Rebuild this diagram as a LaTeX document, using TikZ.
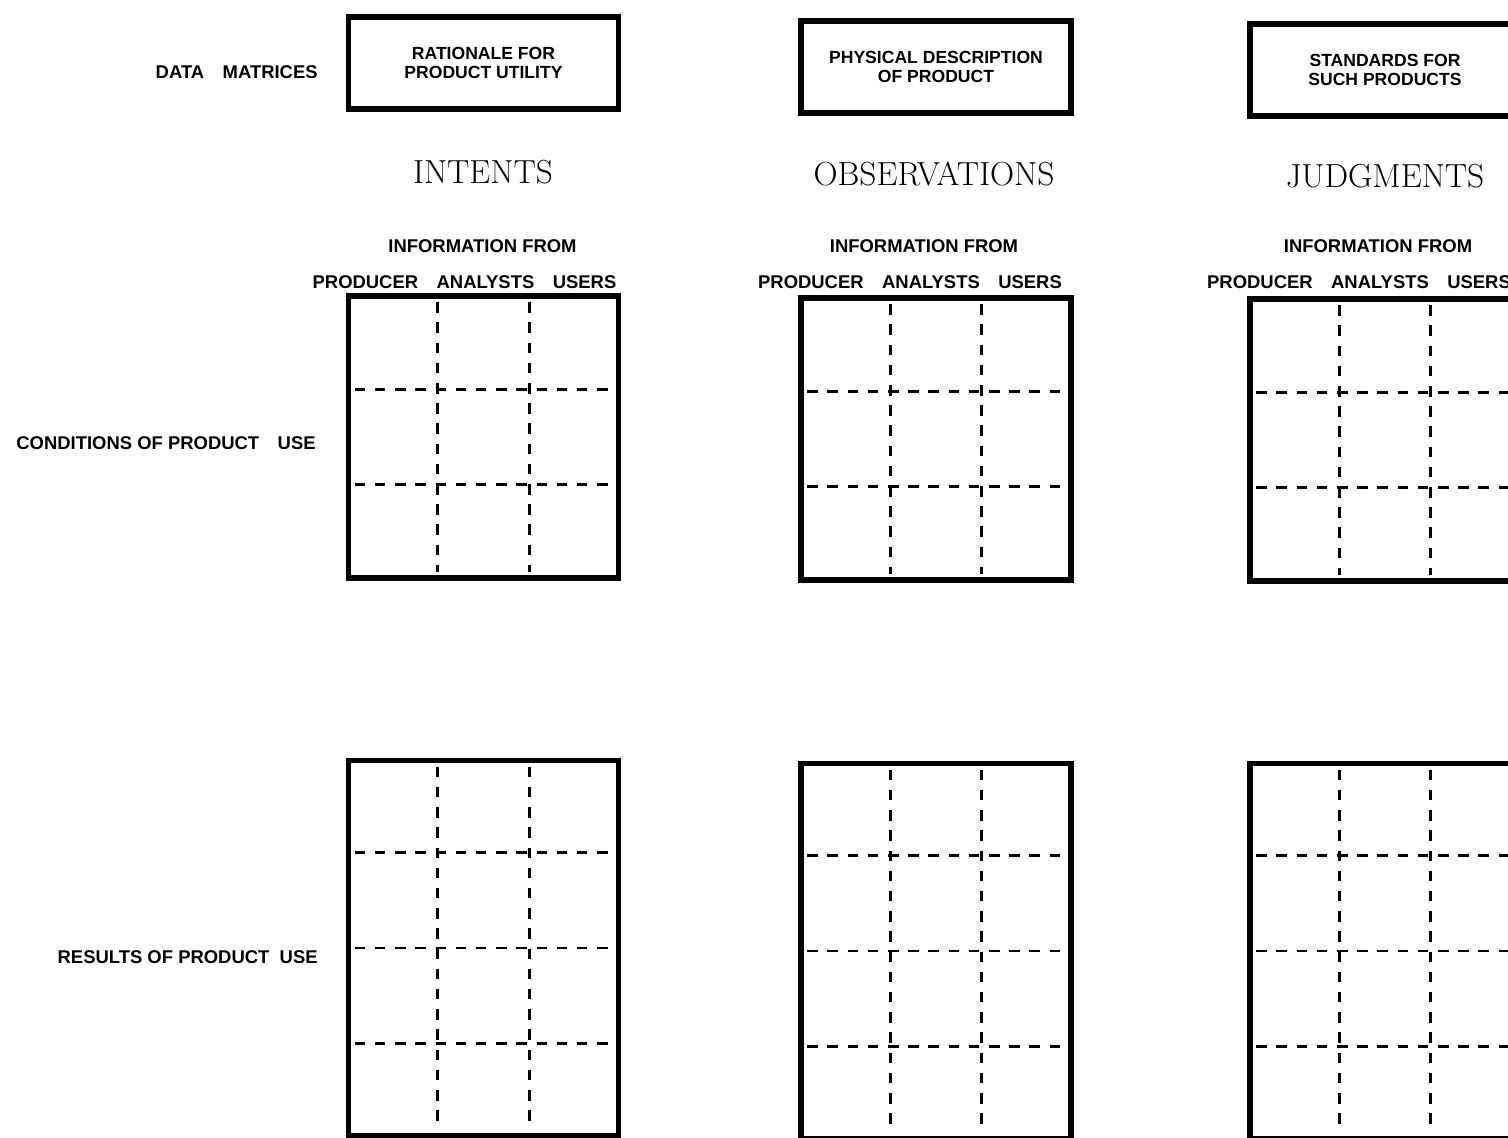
\documentclass[tikz,border=0pt]{standalone}
\usepackage{fontspec}
\newfontfamily\labelfont{Liberation Sans}
\usetikzlibrary{calc,positioning}
\tikzset{
  databox/.style={draw,line width=3pt,minimum width=5.4cm,minimum height=1.84cm,inner sep=0pt,align=center,
    font=\labelfont\bfseries\fontsize{10}{10.5}\selectfont},
  matrixbox/.style={draw,line width=3pt,minimum width=5.4cm,inner sep=0pt},
  cutline/.style={line width=1.7pt,dash pattern=on 6pt off 5.5pt,shorten <=5pt,shorten >=5pt},
  rowlabel/.style={anchor=east,inner sep=0pt,font=\labelfont\bfseries\fontsize{10.5}{12}\selectfont},
  colhead/.style={inner sep=0pt,font=\labelfont\bfseries\fontsize{10.5}{12}\selectfont},
  heading/.style={inner sep=0pt,font=\fontsize{19}{21}\selectfont},
}
\begin{document}
\begin{tikzpicture}[x=0.02cm,y=-0.02cm]
	\useasboundingbox (0,0) rectangle (1508,1138);
	\clip (0,0) rectangle (1508,1138);
	
	% data matrices
	\node[rowlabel] (datamat) at (318,72) {DATA\quad MATRICES};
	\node[databox] (rationale) at (483.5,63) {RATIONALE FOR\\PRODUCT UTILITY};
	\node[databox] (physical) at (936,67) {PHYSICAL DESCRIPTION\\OF PRODUCT};
	\node[databox] (standards) at (1385,70) {STANDARDS FOR\\SUCH PRODUCTS};
	
	\node[heading] (intents) at (483,172) {INTENTS};
	\node[heading] (observ) at (934,174) {OBSERVATIONS};
	\node[heading] (judgm) at (1385,176) {JUDGMENTS};
	
	% column heads
	\foreach \g/\x/\dx/\dy in {int/483.5/-1/-19, obs/936/-12/-26, jud/1385/-7/-26} {
		\node[colhead] (\g info) at (\x+\dx,246) {INFORMATION FROM};
		\node[colhead] (\g from) at (\x+\dy,282) {PRODUCER\quad ANALYSTS\quad USERS};
	}
	
	\node[rowlabel] (condlabel) at (316,443) {CONDITIONS\ OF\ PRODUCT\quad USE};
	\node[rowlabel] (reslabel) at (318,957) {RESULTS\ OF\ PRODUCT\ \ USE};
	
	% matrices
	\foreach \g/\x/\yc/\yr in {int/483.5/437/948, obs/936/439/951, jud/1385/440/951} {
		\node[matrixbox,minimum height=5.64cm] (\g cond) at (\x,\yc) {};
		\node[matrixbox,minimum height=7.5cm] (\g res) at (\x,\yr) {};
		\foreach \i in {1,2} {
			\draw[cutline] ($(\g cond.north west)!\i/3!(\g cond.north east)$) -- ($(\g cond.south west)!\i/3!(\g cond.south east)$);
			\draw[cutline] ($(\g cond.north west)!\i/3!(\g cond.south west)$) -- ($(\g cond.north east)!\i/3!(\g cond.south east)$);
			\draw[cutline] ($(\g res.north west)!\i/3!(\g res.north east)$) -- ($(\g res.south west)!\i/3!(\g res.south east)$);
		}
		\foreach \i in {1,2,3}
			\draw[cutline] ($(\g res.north west)!\i/4!(\g res.south west)$) -- ($(\g res.north east)!\i/4!(\g res.south east)$);
	}
\end{tikzpicture}
\end{document}
